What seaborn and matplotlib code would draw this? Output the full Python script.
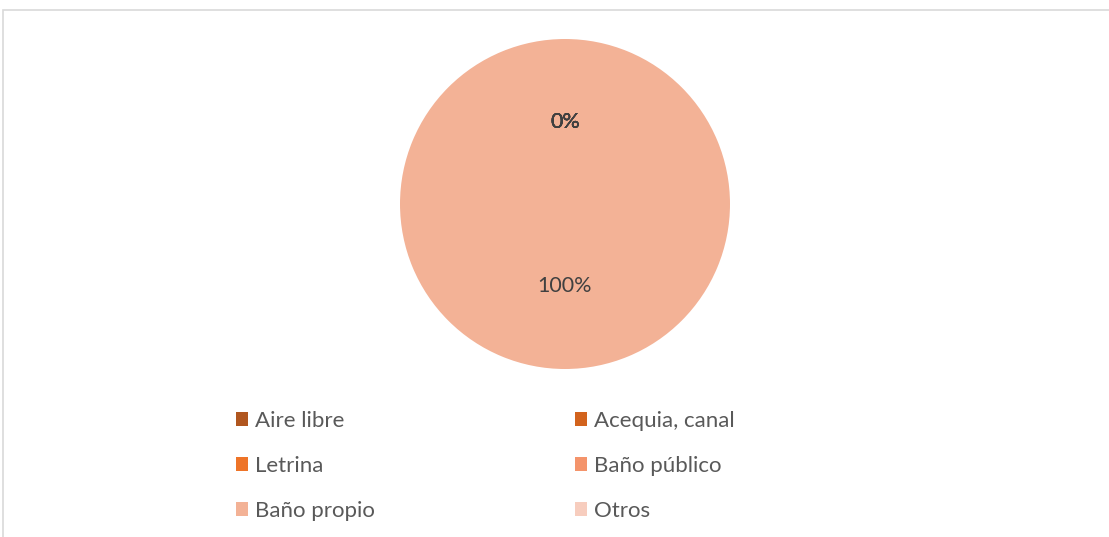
import matplotlib
matplotlib.use("Agg")
import matplotlib.pyplot as plt
import seaborn as sns
from matplotlib.patches import Rectangle

# data
categories = ["Aire libre", "Acequia, canal", "Letrina", "Baño público", "Baño propio", "Otros"]
values = [0, 0, 0, 0, 100, 0]
colors = ["#B0561F", "#D2631D", "#EE7428", "#F4946B", "#F3B296", "#F7CDBE"]

sns.set_theme(style="white")
plt.rcParams["font.family"] = ["Lato", "DejaVu Sans"]

fig = plt.figure(figsize=(11.09, 5.37), dpi=100)

# light frame like the office chart area
fig.patches.append(Rectangle((3 / 1109, -0.2), 1.2, (537 - 10) / 537 + 0.2,
                             transform=fig.transFigure, fill=False,
                             edgecolor="#D9D9D9", linewidth=1.2))

cx, cy, r = 565, 204, 165
ax = fig.add_axes([(cx - r) / 1109, (537 - cy - r) / 537, 2 * r / 1109, 2 * r / 537])
wedges, texts, autotexts = ax.pie(
    values, colors=colors, startangle=90, counterclock=False,
    autopct="%1.0f%%", pctdistance=0.5,
    wedgeprops=dict(linewidth=0),
    textprops=dict(color="#404040", fontsize=15.5),
)
ax.set_aspect("equal")
ax.set_xlim(-1, 1)
ax.set_ylim(-1, 1)

# legend: two columns, row-major order like the original
order = [0, 2, 4, 1, 3, 5]
leg = fig.legend([wedges[i] for i in order], [categories[i] for i in order],
                 ncol=2, loc="upper left", bbox_to_anchor=(216 / 1109, 1 - 391 / 537),
                 frameon=False, fontsize=16, handlelength=0.56, handleheight=0.56,
                 handletextpad=0.3, labelspacing=1.12, columnspacing=9.0)
for t in leg.get_texts():
    t.set_color("#595959")

fig.savefig("out.png", dpi=100)
